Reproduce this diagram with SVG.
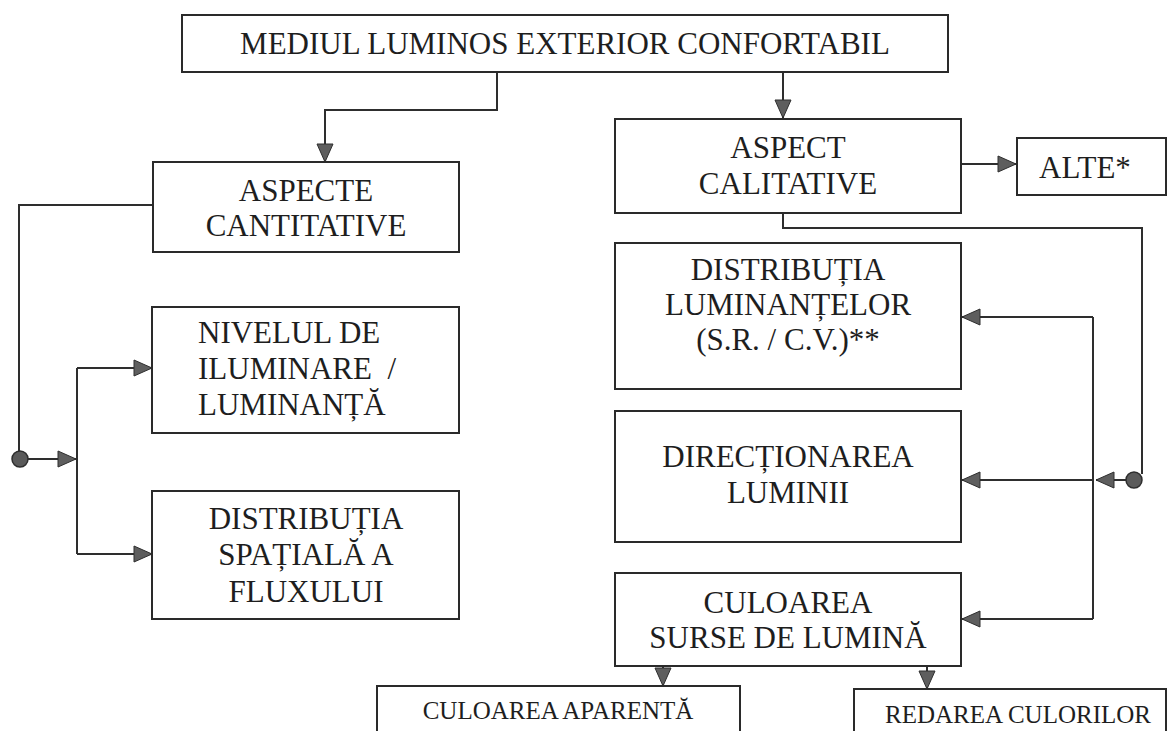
<svg xmlns="http://www.w3.org/2000/svg" width="1168" height="731" viewBox="0 0 1168 731">
<defs>
<style>
.box{fill:#fff;stroke:#2a2a2a;stroke-width:2}
.t{font-size:31px;fill:#1e1e1e;text-anchor:middle}
.s{font-size:25px}
.st{text-anchor:start}
.ln{fill:none;stroke:#2e2e2e;stroke-width:2}
.dot{fill:#5a5a5a;stroke:#2e2e2e;stroke-width:1.5}
</style>
<marker id="ah" markerUnits="userSpaceOnUse" markerWidth="20" markerHeight="18" viewBox="0 0 20 18" refX="19" refY="9" orient="auto">
<path d="M1,1 L19,9 L1,17 Z" fill="#5e5e5e" stroke="#2e2e2e" stroke-width="1"/>
</marker>
</defs>
<rect width="1168" height="731" fill="#fff"/>

<g id="connectors">
<path class="ln" d="M497,71 V110 H325 V162" marker-end="url(#ah)"/>
<path class="ln" d="M783,72 V118" marker-end="url(#ah)"/>
<path class="ln" d="M961,164 H1016" marker-end="url(#ah)"/>
<path class="ln" d="M153,205 H19 V452"/>
<path class="ln" d="M26,459 H76" marker-end="url(#ah)"/>
<path class="ln" d="M77,368 V554"/>
<path class="ln" d="M77,368 H152" marker-end="url(#ah)"/>
<path class="ln" d="M77,554 H152" marker-end="url(#ah)"/>
<path class="ln" d="M783,213 V228 H1142 V474"/>
<path class="ln" d="M1126,480 H1096" marker-end="url(#ah)"/>
<path class="ln" d="M1093,317 V619"/>
<path class="ln" d="M1093,317 H962" marker-end="url(#ah)"/>
<path class="ln" d="M1093,480 H962" marker-end="url(#ah)"/>
<path class="ln" d="M1093,619 H962" marker-end="url(#ah)"/>
<path class="ln" d="M663,666 V686" marker-end="url(#ah)"/>
<path class="ln" d="M927,666 V689" marker-end="url(#ah)"/>
<circle class="dot" cx="20" cy="459" r="8"/>
<circle class="dot" cx="1134" cy="480" r="8"/>
</g>

<g id="nodes">
<g id="n-mediul">
<rect class="box" x="182" y="15" width="766" height="57"/>
<text class="t" font-family="Liberation Serif, Times New Roman, serif" x="565" y="54">MEDIUL LUMINOS EXTERIOR CONFORTABIL</text>
</g>
<g id="n-cantitative">
<rect class="box" x="153" y="162" width="306" height="90"/>
<text class="t" font-family="Liberation Serif, Times New Roman, serif" x="306" y="201">ASPECTE</text>
<text class="t" font-family="Liberation Serif, Times New Roman, serif" x="306" y="236">CANTITATIVE</text>
</g>
<g id="n-nivelul">
<rect class="box" x="152" y="307" width="307" height="126"/>
<text class="t st" font-family="Liberation Serif, Times New Roman, serif" x="198" y="343">NIVELUL DE</text>
<text class="t st" font-family="Liberation Serif, Times New Roman, serif" x="198" y="379" xml:space="preserve">ILUMINARE  /</text>
<text class="t st" font-family="Liberation Serif, Times New Roman, serif" x="198" y="415">LUMINANȚĂ</text>
</g>
<g id="n-spatiala">
<rect class="box" x="152" y="491" width="307" height="128"/>
<text class="t" font-family="Liberation Serif, Times New Roman, serif" x="306" y="529">DISTRIBUȚIA</text>
<text class="t" font-family="Liberation Serif, Times New Roman, serif" x="306" y="565">SPAȚIALĂ A</text>
<text class="t" font-family="Liberation Serif, Times New Roman, serif" x="306" y="602">FLUXULUI</text>
</g>
<g id="n-calitative">
<rect class="box" x="615" y="119" width="346" height="94"/>
<text class="t" font-family="Liberation Serif, Times New Roman, serif" x="788" y="158">ASPECT</text>
<text class="t" font-family="Liberation Serif, Times New Roman, serif" x="788" y="194">CALITATIVE</text>
</g>
<g id="n-alte">
<rect class="box" x="1017" y="138" width="149" height="57"/>
<text class="t st" font-family="Liberation Serif, Times New Roman, serif" x="1039" y="178">ALTE*</text>
</g>
<g id="n-luminante">
<rect class="box" x="615" y="243" width="346" height="146"/>
<text class="t" font-family="Liberation Serif, Times New Roman, serif" x="788" y="280">DISTRIBUȚIA</text>
<text class="t" font-family="Liberation Serif, Times New Roman, serif" x="788" y="315">LUMINANȚELOR</text>
<text class="t" font-family="Liberation Serif, Times New Roman, serif" x="788" y="350">(S.R. / C.V.)**</text>
</g>
<g id="n-directionarea">
<rect class="box" x="615" y="411" width="346" height="131"/>
<text class="t" font-family="Liberation Serif, Times New Roman, serif" x="788" y="467">DIRECȚIONAREA</text>
<text class="t" font-family="Liberation Serif, Times New Roman, serif" x="788" y="503">LUMINII</text>
</g>
<g id="n-culoarea">
<rect class="box" x="615" y="573" width="346" height="93"/>
<text class="t" font-family="Liberation Serif, Times New Roman, serif" x="788" y="613">CULOAREA</text>
<text class="t" font-family="Liberation Serif, Times New Roman, serif" x="788" y="648">SURSE DE LUMINĂ</text>
</g>
<g id="n-aparenta">
<rect class="box" x="377" y="686" width="363" height="60"/>
<text class="t s" font-family="Liberation Serif, Times New Roman, serif" x="558" y="719">CULOAREA APARENTĂ</text>
</g>
<g id="n-redarea">
<rect class="box" x="854" y="689" width="312" height="60"/>
<text class="t s" font-family="Liberation Serif, Times New Roman, serif" x="1018" y="723">REDAREA CULORILOR</text>
</g>
</g>
</svg>
